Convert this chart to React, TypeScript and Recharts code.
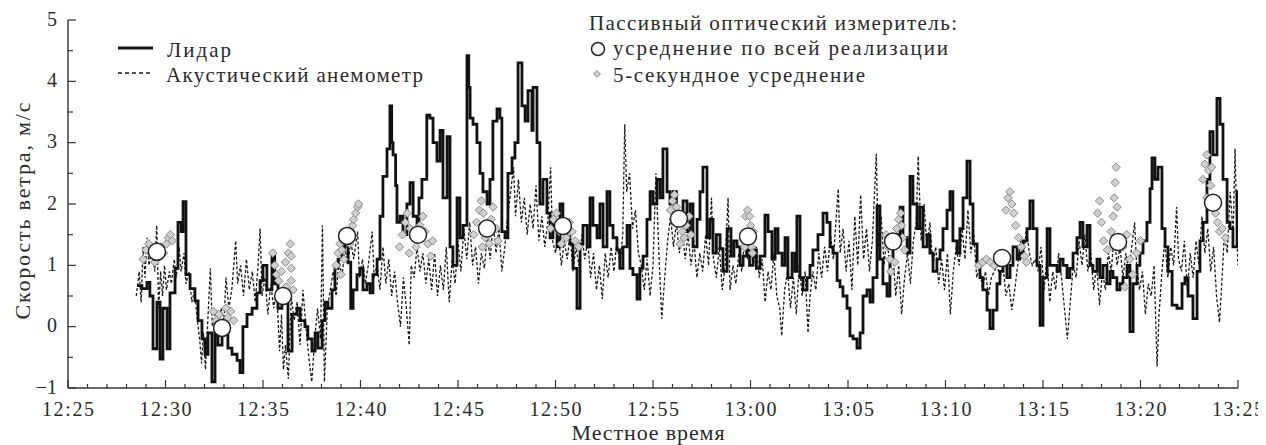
import React from 'react';
import { ComposedChart, Line, Scatter, XAxis, YAxis } from 'recharts';

// time in minutes after 12:25, speed in m/s
const xTickLabels = ['12:25', '12:30', '12:35', '12:40', '12:45', '12:50', '12:55', '13:00', '13:05', '13:10', '13:15', '13:20', '13:25'];
const xTickValues = [0, 1, 2, 3, 4, 5, 6, 7, 8, 9, 10, 11, 12, 13, 14, 15, 16, 17, 18, 19, 20, 21, 22, 23, 24, 25, 26, 27, 28, 29, 30, 31, 32, 33, 34, 35, 36, 37, 38, 39, 40, 41, 42, 43, 44, 45, 46, 47, 48, 49, 50, 51, 52, 53, 54, 55, 56, 57, 58, 59, 60];
const yTickLabels = ['\u22121', '0', '1', '2', '3', '4', '5'];
const yTickValues = [-1, -0.5, 0, 0.5, 1, 1.5, 2, 2.5, 3, 3.5, 4, 4.5, 5];

const lidar: [number, number][] = [
  [3.54, 0.67], [3.79, 0.62], [4.05, 0.72], [4.2, 0.5], [4.36, -0.36], [4.56, 0.4], [4.72, -0.53], [4.87, 0.3], [5.08, -0.36], [5.23, 0.55],
  [5.49, 0.95], [5.64, 1.7], [5.8, 1.55], [5.9, 2.04], [6.05, 0.85], [6.26, 0.62], [6.51, 0.42], [6.67, 0.1], [6.87, -0.2], [7.03, -0.45],
  [7.18, -0.1], [7.38, -0.9], [7.54, -0.1], [7.69, -0.3], [7.9, 0.1], [8.05, -0.1], [8.2, -0.35], [8.41, -0.45], [8.67, -0.55], [8.82, -0.75],
  [8.97, 0.0], [9.18, 0.2], [9.44, 0.3], [9.69, 0.55], [9.85, 0.75], [10.0, 1.0], [10.2, 0.6], [10.46, 1.15], [10.6, 0.7], [10.77, 0.3],
  [10.97, 0.55], [11.13, 0.4], [11.28, -0.4], [11.49, 0.2], [11.74, 0.3], [11.9, 0.1], [12.15, 0.0], [12.3, -0.2], [12.51, -0.4], [12.67, -0.1],
  [12.82, -0.35], [13.03, 0.1], [13.18, 0.4], [13.33, 0.3], [13.54, 0.6], [13.69, 0.95], [13.85, 1.1], [14.05, 1.3], [14.2, 1.45], [14.36, 1.05],
  [14.5, 0.3], [14.62, 0.6], [14.82, 0.85], [14.97, 0.95], [15.13, 0.6], [15.33, 0.7], [15.49, 0.55], [15.64, 0.85], [15.85, 1.1], [16.0, 1.8],
  [16.15, 2.45], [16.36, 2.9], [16.51, 3.6], [16.6, 3.0], [16.67, 2.8], [16.8, 2.3], [16.87, 1.7], [17.03, 1.8], [17.18, 1.5], [17.38, 2.0],
  [17.54, 2.35], [17.7, 1.8], [17.9, 1.5], [18.0, 2.1], [18.15, 2.4], [18.4, 3.45], [18.56, 3.4], [18.72, 3.0], [18.92, 2.7], [19.08, 3.2],
  [19.23, 2.1], [19.44, 3.1], [19.59, 1.3], [19.74, 1.0], [19.95, 2.1], [20.1, 1.45], [20.26, 1.65], [20.46, 4.42], [20.55, 3.9], [20.62, 3.4],
  [20.77, 3.3], [20.97, 3.0], [21.13, 2.5], [21.28, 2.2], [21.49, 2.0], [21.64, 2.4], [21.79, 3.35], [22.0, 3.55], [22.15, 3.4], [22.25, 1.55],
  [22.41, 1.45], [22.56, 2.5], [22.77, 2.75], [22.92, 3.0], [23.08, 4.3], [23.28, 3.6], [23.44, 3.35], [23.59, 3.85], [23.79, 3.2], [23.85, 3.9],
  [24.05, 3.0], [24.2, 2.0], [24.36, 2.4], [24.56, 1.85], [24.72, 1.45], [24.87, 1.7], [25.08, 1.3], [25.23, 2.0], [25.38, 1.65], [25.59, 1.45],
  [25.74, 1.35], [25.9, 0.95], [26.1, 0.3], [26.26, 1.35], [26.41, 1.65], [26.62, 1.3], [26.77, 2.1], [26.92, 1.65], [27.13, 1.45], [27.28, 2.0],
  [27.44, 1.3], [27.64, 2.2], [27.79, 1.65], [27.95, 1.45], [28.15, 1.25], [28.3, 0.95], [28.46, 1.3], [28.67, 1.65], [28.82, 0.95], [28.97, 0.85],
  [29.18, 0.45], [29.33, 0.95], [29.49, 1.15], [29.69, 1.75], [29.85, 2.2], [30.0, 2.0], [30.2, 2.4], [30.36, 2.1], [30.51, 2.9], [30.72, 2.2],
  [30.87, 2.0], [31.03, 2.2], [31.2, 1.8], [31.38, 1.65], [31.54, 2.05], [31.74, 1.55], [31.9, 2.0], [32.05, 1.3], [32.26, 1.75], [32.41, 2.2],
  [32.56, 2.6], [32.77, 1.45], [32.92, 1.75], [33.08, 1.2], [33.25, 1.5], [33.44, 1.27], [33.59, 0.9], [33.8, 1.6], [34.0, 1.15], [34.15, 1.4],
  [34.31, 1.3], [34.46, 1.0], [34.62, 1.15], [34.8, 1.3], [34.95, 1.0], [35.13, 1.25], [35.3, 0.95], [35.49, 1.15], [35.74, 1.82], [35.9, 1.55],
  [36.1, 1.1], [36.26, 1.6], [36.41, 1.2], [36.62, 1.0], [36.77, 1.45], [36.92, 0.8], [37.13, 1.2], [37.28, 0.9], [37.38, 1.8], [37.54, 0.8],
  [37.69, 0.6], [37.9, 0.8], [38.05, 1.0], [38.2, 1.25], [38.46, 1.5], [38.72, 1.85], [38.92, 1.7], [39.08, 1.3], [39.23, 1.2], [39.44, 0.75],
  [39.59, 0.65], [39.74, 0.5], [39.95, 0.3], [40.1, -0.15], [40.26, -0.2], [40.46, -0.35], [40.62, -0.1], [40.77, 0.5], [40.97, 0.6], [41.13, 0.4],
  [41.28, 0.8], [41.49, 1.97], [41.64, 1.1], [41.79, 0.7], [42.0, 0.5], [42.15, 1.1], [42.31, 1.35], [42.51, 1.5], [42.67, 1.95], [42.82, 1.45],
  [43.03, 1.2], [43.18, 2.45], [43.33, 2.0], [43.54, 1.6], [43.69, 1.95], [43.85, 1.3], [44.05, 1.5], [44.2, 1.2], [44.36, 0.9], [44.56, 1.1],
  [44.72, 1.25], [44.87, 1.6], [45.08, 1.9], [45.23, 2.2], [45.38, 1.4], [45.59, 1.2], [45.74, 1.6], [45.9, 2.1], [46.1, 2.7], [46.26, 2.0],
  [46.41, 1.35], [46.62, 1.0], [46.77, 0.8], [46.92, 0.6], [47.13, 0.27], [47.28, -0.03], [47.44, 0.27], [47.64, 0.7], [47.79, 0.9], [47.95, 1.0],
  [48.15, 0.8], [48.31, 1.0], [48.46, 1.3], [48.67, 1.1], [48.82, 1.2], [48.97, 1.4], [49.18, 1.6], [49.33, 2.05], [49.49, 1.6], [49.69, 1.0],
  [49.85, 0.02], [50.0, 0.8], [50.21, 1.6], [50.36, 1.0], [50.72, 0.9], [50.87, 1.1], [51.03, 1.0], [51.23, 0.8], [51.38, 0.95], [51.54, 1.2],
  [51.74, 1.45], [51.9, 1.7], [52.05, 1.3], [52.26, 1.65], [52.41, 1.0], [52.56, 0.9], [52.77, 1.1], [52.92, 0.8], [53.08, 1.0], [53.28, 0.7],
  [53.44, 0.9], [53.59, 0.8], [53.79, 0.6], [53.95, 0.7], [54.1, 0.8], [54.31, 1.0], [54.46, -0.08], [54.62, 0.7], [54.82, 1.0], [54.97, 1.2],
  [55.13, 1.4], [55.33, 1.7], [55.49, 2.25], [55.59, 2.75], [55.74, 2.4], [55.9, 2.6], [56.1, 1.6], [56.26, 1.3], [56.41, 0.9], [56.62, 0.35],
  [56.87, 0.3], [57.13, 0.7], [57.28, 0.8], [57.44, 0.5], [57.69, 0.13], [57.9, 0.9], [58.05, 1.4], [58.21, 1.7], [58.41, 2.4], [58.56, 3.18],
  [58.72, 2.8], [58.92, 3.72], [59.08, 3.3], [59.23, 2.4], [59.44, 1.7], [59.59, 1.6], [59.74, 1.3], [59.95, 2.2], [60.0, 2.2],
];

const acoustic: [number, number][] = [
  [3.5, 0.5], [3.65, 0.9], [3.75, 0.4], [3.85, 1.3], [3.95, 0.8], [4.05, 1.45], [4.15, 1.0], [4.3, 1.3], [4.45, 0.9], [4.55, 1.65],
  [4.65, 0.3], [4.75, 0.9], [4.85, 0.5], [4.95, 1.0], [5.05, 0.6], [5.2, 0.9], [5.3, 0.7], [5.45, 1.1], [5.55, 0.8], [5.7, 1.3],
  [5.8, 0.9], [5.95, 1.2], [6.05, 0.7], [6.2, 0.9], [6.35, 0.4], [6.5, 0.6], [6.6, 0.2], [6.75, -0.2], [6.85, -0.6], [6.95, -0.1],
  [7.05, -0.7], [7.2, 0.3], [7.3, 0.95], [7.4, 0.0], [7.55, 0.2], [7.7, -0.1], [7.85, 0.3], [8.0, 0.1], [8.1, 0.8], [8.25, 0.3],
  [8.4, 0.6], [8.6, 1.4], [8.7, 0.7], [8.85, 1.0], [9.0, 0.5], [9.15, 1.1], [9.3, 0.6], [9.45, 0.9], [9.6, 0.4], [9.75, 1.0],
  [9.85, 1.6], [9.95, 0.5], [10.1, 0.8], [10.25, 0.2], [10.4, 0.7], [10.55, 0.3], [10.7, 0.6], [10.85, -0.4], [10.95, 0.2], [11.05, -0.7],
  [11.15, -0.3], [11.3, -0.85], [11.45, 0.5], [11.6, 0.1], [11.75, 0.4], [11.9, -0.3], [12.05, 0.6], [12.2, 0.0], [12.35, -0.5], [12.5, -0.9],
  [12.65, -0.2], [12.8, 0.3], [12.95, -0.2], [13.05, 1.65], [13.15, -0.9], [13.3, 0.3], [13.45, 0.6], [13.6, 0.9], [13.75, 0.5], [13.9, 1.1],
  [14.05, 0.8], [14.2, 1.3], [14.35, 1.0], [14.5, 1.4], [14.65, 1.1], [14.85, 1.55], [14.95, 0.8], [15.1, 1.1], [15.25, 0.7], [15.4, 1.0],
  [15.6, 1.55], [15.7, 0.8], [15.85, 1.0], [16.0, 0.6], [16.15, 1.3], [16.3, 0.7], [16.45, 1.1], [16.6, 0.5], [16.75, 0.9], [16.9, 0.4],
  [17.05, 0.0], [17.2, 0.8], [17.35, 0.3], [17.5, -0.3], [17.6, 1.0], [17.75, 0.8], [17.9, 1.3], [18.05, 0.9], [18.2, 1.2], [18.35, 0.7],
  [18.5, 1.1], [18.65, 0.6], [18.8, 1.2], [18.95, 0.5], [19.1, 1.0], [19.25, 0.6], [19.4, 1.3], [19.55, 0.4], [19.7, 1.1], [19.85, 0.7],
  [20.0, 1.4], [20.15, 0.9], [20.3, 1.6], [20.45, 1.1], [20.6, 1.7], [20.75, 1.0], [20.9, 1.3], [21.05, 0.7], [21.2, 1.2], [21.35, 0.95],
  [21.5, 1.5], [21.65, 1.1], [21.8, 1.7], [21.95, 1.2], [22.1, 1.6], [22.25, 0.9], [22.4, 1.3], [22.55, 1.8], [22.7, 2.2], [22.85, 2.6],
  [22.95, 1.8], [23.1, 2.4], [23.25, 1.7], [23.4, 2.1], [23.55, 1.5], [23.7, 2.0], [23.85, 1.6], [24.0, 2.3], [24.15, 1.4], [24.3, 1.8],
  [24.45, 1.3], [24.6, 1.7], [24.75, 2.6], [24.85, 1.4], [25.0, 1.2], [25.15, 1.5], [25.3, 1.0], [25.45, 1.4], [25.6, 1.1], [25.75, 1.5],
  [25.9, 0.9], [26.05, 1.3], [26.2, 1.0], [26.35, 1.5], [26.5, 1.1], [26.65, 1.4], [26.8, 0.8], [26.95, 1.2], [27.1, 0.6], [27.25, 1.0],
  [27.4, 0.45], [27.55, 1.2], [27.7, 0.8], [27.85, 1.3], [28.0, 0.9], [28.15, 1.4], [28.3, 1.0], [28.45, 1.5], [28.55, 3.3], [28.65, 2.2],
  [28.8, 2.5], [28.95, 1.6], [29.1, 1.9], [29.25, 1.2], [29.4, 1.0], [29.55, 0.6], [29.7, 1.1], [29.85, 0.5], [30.0, 1.0], [30.15, 2.5],
  [30.3, 1.2], [30.45, 0.13], [30.6, 0.8], [30.75, 1.4], [30.9, 1.8], [31.05, 1.3], [31.2, 1.7], [31.35, 1.2], [31.5, 1.6], [31.65, 1.1],
  [31.8, 1.5], [31.95, 1.0], [32.1, 1.4], [32.25, 0.8], [32.4, 1.2], [32.55, 0.9], [32.7, 1.5], [32.85, 1.0], [33.0, 2.1], [33.1, 1.1],
  [33.25, 0.8], [33.4, 1.3], [33.55, 0.6], [33.7, 1.0], [33.85, 2.1], [33.95, 0.6], [34.1, 1.0], [34.25, 0.7], [34.4, 1.2], [34.55, 0.9],
  [34.7, 1.4], [34.85, 1.1], [35.0, 1.5], [35.15, 1.0], [35.3, 1.3], [35.45, 0.8], [35.6, 1.1], [35.75, 0.4], [35.9, 0.9], [36.05, 0.6],
  [36.2, 1.2], [36.35, 0.5], [36.5, 0.3], [36.6, -0.15], [36.75, 0.6], [36.9, 0.9], [37.05, 0.3], [37.2, 0.8], [37.35, 0.2], [37.5, 1.0],
  [37.65, 0.5], [37.8, 0.9], [37.95, -0.1], [38.05, 0.5], [38.2, 0.9], [38.35, 0.6], [38.5, 1.2], [38.65, 0.8], [38.8, 1.3], [38.95, 0.9],
  [39.1, 1.5], [39.25, 1.1], [39.4, 1.8], [39.5, 2.25], [39.6, 1.2], [39.75, 1.6], [39.9, 0.9], [40.05, 1.4], [40.2, 0.6], [40.35, 1.8],
  [40.5, 1.0], [40.65, 2.15], [40.8, 1.1], [40.95, 1.6], [41.1, 0.9], [41.25, 1.4], [41.45, 2.82], [41.55, 1.3], [41.7, 1.8], [41.85, 1.0],
  [42.0, 1.5], [42.15, 0.9], [42.3, 1.2], [42.45, 0.5], [42.6, 1.0], [42.75, 0.2], [42.9, 0.8], [43.05, 1.2], [43.2, 0.7], [43.35, 1.4],
  [43.5, 1.7], [43.6, 2.78], [43.75, 1.4], [43.9, 2.0], [44.05, 1.3], [44.2, 1.7], [44.35, 1.0], [44.5, 1.3], [44.65, 0.7], [44.8, 1.1],
  [44.95, 0.6], [45.1, 1.2], [45.25, 0.2], [45.4, 0.9], [45.55, 1.3], [45.7, 1.0], [45.85, 1.6], [46.0, 1.1], [46.15, 1.9], [46.3, 1.2],
  [46.45, 1.5], [46.6, 0.8], [46.75, 1.0], [46.9, 0.6], [47.05, 0.9], [47.2, 0.5], [47.35, 0.8], [47.5, 0.9], [47.65, 1.0], [47.8, 0.8],
  [47.95, 1.0], [48.1, 0.5], [48.25, 0.7], [48.4, 0.27], [48.55, 0.6], [48.7, 1.0], [48.85, 1.4], [49.0, 1.1], [49.15, 1.6], [49.3, 1.2],
  [49.45, 1.0], [49.6, 1.1], [49.75, 0.9], [49.9, 1.3], [50.05, 0.6], [50.2, 1.1], [50.35, 0.4], [50.5, 0.9], [50.65, 0.6], [50.8, 1.2],
  [50.95, 0.8], [51.1, 0.3], [51.25, -0.2], [51.4, 0.4], [51.55, 1.0], [51.7, 0.8], [51.85, 1.4], [52.0, 1.0], [52.15, 1.5], [52.3, 0.9],
  [52.45, 1.2], [52.6, 0.6], [52.75, 1.0], [52.9, 0.35], [53.05, 0.9], [53.2, 0.6], [53.35, 1.2], [53.5, 0.9], [53.65, 1.5], [53.8, 1.0],
  [53.95, 1.3], [54.1, 0.8], [54.25, 1.2], [54.4, 0.9], [54.55, 1.3], [54.7, 1.7], [54.8, 1.0], [54.95, 0.6], [55.1, 0.9], [55.25, 0.2],
  [55.4, 0.7], [55.55, 0.5], [55.7, 1.0], [55.85, -0.65], [55.95, 0.2], [56.1, 0.9], [56.25, 1.4], [56.4, 0.8], [56.55, 1.3], [56.7, 1.0],
  [56.85, 1.95], [56.95, 1.1], [57.1, 0.9], [57.25, 1.4], [57.4, 0.6], [57.55, 1.2], [57.7, 0.8], [57.85, 1.4], [58.0, 1.0], [58.15, 1.8],
  [58.3, 1.2], [58.45, 1.6], [58.6, 0.9], [58.75, 1.3], [58.9, 0.5], [59.05, 0.07], [59.15, 0.6], [59.3, 1.5], [59.45, 1.2], [59.6, 2.2],
  [59.75, 1.5], [59.85, 2.9], [59.95, 1.4], [60.0, 1.0],
];

const realizationMeans: [number, number][] = [
  [4.56, 1.22], [7.9, -0.02], [11.03, 0.5], [14.31, 1.48], [17.95, 1.5], [21.49, 1.6], [25.38, 1.64],
  [31.33, 1.76], [34.87, 1.47], [42.31, 1.39], [47.9, 1.12], [53.85, 1.38], [58.72, 2.02],
];

const fiveSecondMeans: [number, number][] = [
  [3.85, 1.1], [4.0, 1.25], [4.15, 1.35], [4.3, 1.2], [4.45, 1.05], [4.6, 1.15], [4.75, 1.3], [4.9, 1.2], [5.05, 1.35], [5.15, 1.45], [5.25, 1.5], [5.35, 1.4],
  [7.45, 0.25], [7.6, 0.1], [7.75, 0.2], [8.05, 0.05], [8.2, 0.15], [8.35, 0.25], [8.5, 0.1], [7.7, -0.05], [8.1, 0.3],
  [10.5, 1.2], [10.6, 1.0], [10.7, 0.85], [10.8, 0.75], [10.95, 0.9], [11.15, 1.05], [11.3, 1.2], [11.4, 1.35], [11.45, 1.15], [11.45, 0.95], [11.45, 0.75], [11.55, 0.6], [11.2, 0.65], [10.9, 0.55],
  [13.75, 1.0], [13.85, 1.2], [13.95, 1.35], [14.05, 1.25], [14.15, 1.1], [14.5, 1.55], [14.6, 1.65], [14.65, 1.75], [14.75, 1.85], [14.85, 1.95], [14.9, 2.0], [14.45, 1.35], [14.0, 0.85],
  [17.0, 1.3], [17.15, 1.5], [17.3, 1.7], [17.4, 1.85], [17.55, 1.6], [17.7, 1.45], [17.85, 1.3], [18.05, 1.65], [18.2, 1.8], [18.3, 1.55], [18.45, 1.35], [18.6, 1.15], [18.7, 1.4], [17.5, 1.2],
  [20.8, 1.5], [20.95, 1.7], [21.1, 1.9], [21.2, 2.05], [21.3, 1.85], [21.4, 1.45], [21.6, 1.35], [21.7, 1.75], [21.8, 1.95], [21.95, 1.6], [22.05, 1.4], [21.25, 1.3],
  [24.75, 1.6], [24.9, 1.75], [25.05, 1.85], [25.2, 1.55], [25.55, 1.45], [25.7, 1.7], [25.85, 1.55], [26.0, 1.4], [26.2, 1.3], [25.3, 1.35],
  [30.9, 1.9], [31.0, 2.05], [31.1, 2.15], [31.2, 1.95], [31.5, 1.55], [31.6, 1.45], [31.7, 1.65], [31.85, 1.8], [31.95, 1.5], [31.4, 1.35],
  [34.75, 1.8], [34.85, 1.9], [34.95, 1.8], [35.0, 1.65], [35.05, 1.3], [35.1, 1.2], [34.7, 1.3], [35.15, 1.55],
  [41.95, 1.5], [42.05, 1.3], [42.15, 1.1], [42.5, 1.6], [42.6, 1.75], [42.7, 1.85], [42.75, 1.65], [42.8, 1.45], [42.9, 1.25], [42.4, 1.05], [42.2, 0.9],
  [46.7, 1.0], [46.9, 1.05], [47.1, 1.1], [47.3, 1.05], [47.5, 1.0], [48.1, 1.9], [48.2, 2.1], [48.3, 2.2], [48.4, 2.0], [48.5, 1.85], [48.6, 1.65], [48.75, 1.45], [48.9, 1.3], [49.05, 1.15], [49.15, 1.05],
  [52.8, 1.85], [52.9, 2.05], [53.0, 1.7], [53.1, 1.4], [53.3, 1.25], [53.5, 1.55], [53.6, 1.8], [53.65, 2.1], [53.7, 2.35], [53.75, 2.6], [53.8, 1.95], [54.1, 1.3], [54.3, 1.5], [54.45, 1.1], [54.6, 0.85], [54.8, 1.2], [55.0, 1.4], [54.2, 0.65],
  [58.2, 2.4], [58.3, 2.65], [58.4, 2.8], [58.5, 2.55], [58.6, 2.3], [58.65, 2.6], [58.85, 1.85], [58.95, 1.7], [59.05, 1.55], [59.2, 1.6], [59.35, 1.45], [58.4, 2.1],
];

const toRows = (arr: [number, number][]) => arr.map(([t, v]) => ({ t, v }));
const lidarRows = toRows(lidar);
const acousticRows = toRows(acoustic);
const meanRows = toRows(realizationMeans);
const fiveSecRows = toRows(fiveSecondMeans);

const FONT = 'Liberation Serif';
const TEXT = '#2a2a2a';
const AXIS = '#333';
const textStyle: React.CSSProperties = { fontFamily: FONT };

const XTick = (props: any) => {
  const { x, y, payload } = props;
  const v = payload.value as number;
  const major = v % 5 === 0;
  return (
    <g>
      <line x1={x} x2={x} y1={y} y2={y - (major ? 8 : 4)} stroke={AXIS} strokeWidth={1.2} />
      {major && (
        <text x={x} y={y + 27.5} textAnchor="middle" style={textStyle} fontSize={20} fill={TEXT}
          textLength={52} lengthAdjust="spacing">
          {xTickLabels[v / 5]}
        </text>
      )}
    </g>
  );
};

const YTick = (props: any) => {
  const { x, y, payload } = props;
  const v = payload.value as number;
  const major = Number.isInteger(v);
  return (
    <g>
      <line x1={x} x2={x + (major ? 8 : 5)} y1={y} y2={y} stroke={AXIS} strokeWidth={1.2} />
      {major && (
        <text x={x - 11} y={y + 5.5} textAnchor="end" style={textStyle} fontSize={20} fill={TEXT}>
          {yTickLabels[v + 1]}
        </text>
      )}
    </g>
  );
};

const Diamond = (props: any) => {
  const { cx, cy } = props;
  if (cx == null || cy == null) return null;
  const r = 4.2;
  return (
    <polygon
      points={`${cx},${cy - r} ${cx + r},${cy} ${cx},${cy + r} ${cx - r},${cy}`}
      fill="#cfcfcf"
      stroke="#808080"
      strokeWidth={0.9}
    />
  );
};

const BigCircle = (props: any) => {
  const { cx, cy } = props;
  if (cx == null || cy == null) return null;
  return <circle cx={cx} cy={cy} r={8.5} fill="#ffffff" stroke="#222" strokeWidth={1.5} />;
};

const W = 1258;
const H = 437;

export default function App() {
  return (
    <div style={{ position: 'relative', width: W, height: H, background: '#fff' }}>
      <ComposedChart width={W} height={H} margin={{ top: 12, right: 28, left: 0, bottom: 27 }}>
        <XAxis
          type="number"
          dataKey="t"
          domain={[0, 60]}
          ticks={xTickValues}
          interval={0}
          allowDataOverflow
          tickSize={0}
          tickMargin={0}
          tickLine={false}
          axisLine={{ stroke: AXIS, strokeWidth: 1.4 }}
          tick={<XTick />}
          height={30}
        />
        <YAxis
          type="number"
          domain={[-1, 5]}
          ticks={yTickValues}
          interval={0}
          allowDataOverflow
          tickSize={0}
          tickMargin={0}
          tickLine={false}
          axisLine={{ stroke: AXIS, strokeWidth: 1.4 }}
          tick={<YTick />}
          width={60}
        />
        <Line
          data={acousticRows}
          dataKey="v"
          type="linear"
          stroke="#1a1a1a"
          strokeWidth={1.3}
          strokeDasharray="3 2"
          dot={false}
          isAnimationActive={false}
        />
        <Line
          data={lidarRows}
          dataKey="v"
          type="stepAfter"
          stroke="#111"
          strokeWidth={2.8}
          dot={false}
          isAnimationActive={false}
        />
        <Scatter data={fiveSecRows} dataKey="v" shape={<Diamond />} isAnimationActive={false} />
        <Scatter data={meanRows} dataKey="v" shape={<BigCircle />} isAnimationActive={false} />
      </ComposedChart>

      <svg width={W} height={H} style={{ position: 'absolute', left: 0, top: 0, pointerEvents: 'none' }}>
        <g style={textStyle} fill={TEXT} fontSize={21}>
          <line x1={110} x2={145} y1={40} y2={40} stroke="#111" strokeWidth={2.8} />
          <text x={159} y={49} textLength={64} lengthAdjust="spacing">Лидар</text>
          <line x1={110} x2={145} y1={65} y2={65} stroke="#1a1a1a" strokeWidth={1.3} strokeDasharray="4 3" />
          <text x={158} y={74} textLength={257} lengthAdjust="spacing">Акустический анемометр</text>

          <text x={581} y={22} textLength={368} lengthAdjust="spacing">Пассивный оптический измеритель:</text>
          <circle cx={590} cy={41} r={6.5} fill="#fff" stroke="#222" strokeWidth={1.5} />
          <text x={605} y={47} textLength={335} lengthAdjust="spacing">усреднение по всей реализации</text>
          <polygon points="589,62.6 592.4,66 589,69.4 585.6,66" fill="#cfcfcf" stroke="#808080" strokeWidth={0.9} />
          <text x={605} y={74} textLength={252} lengthAdjust="spacing">5-секундное усреднение</text>

          <text
            x={14}
            y={203}
            transform="rotate(-90 14 203)"
            textAnchor="middle"
            dominantBaseline="central"
            fontSize={22}
            textLength={217}
            lengthAdjust="spacing"
          >
            Скорость ветра, м/с
          </text>
          <text x={640} y={432} textAnchor="middle" fontSize={22} textLength={153} lengthAdjust="spacing">Местное время</text>
        </g>
      </svg>
    </div>
  );
}
